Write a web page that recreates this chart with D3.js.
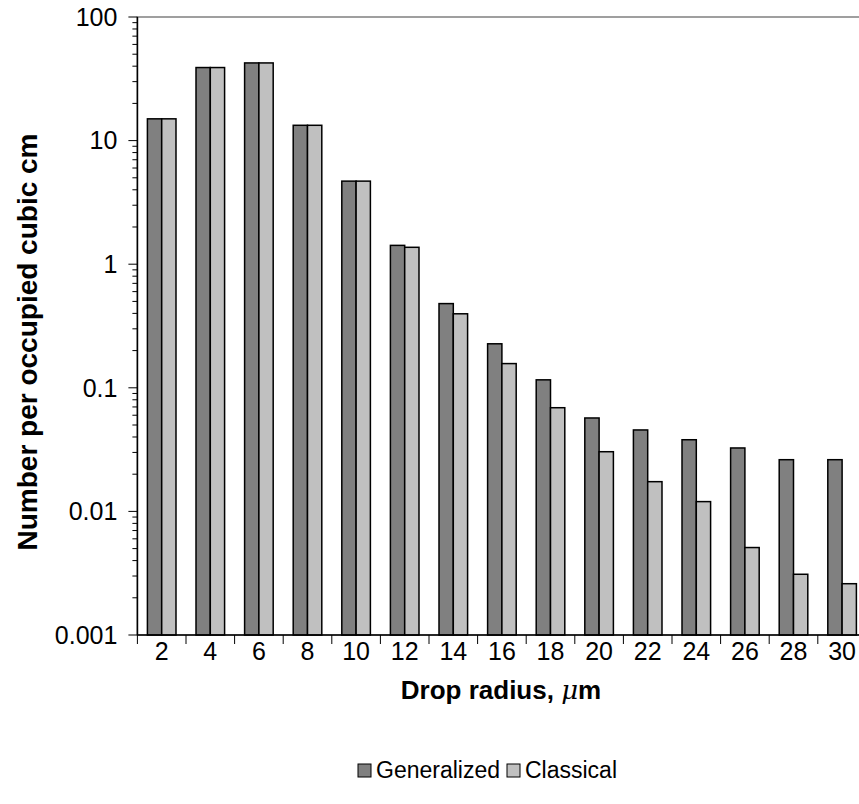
<!DOCTYPE html>
<html>
<head>
<meta charset="utf-8">
<script src="https://cdn.jsdelivr.net/npm/d3@7"></script>
<style>
  body { margin: 0; background: #fff; }
  text { font-family: "Liberation Sans", Arial, sans-serif; }
</style>
</head>
<body>
<div id="my_dataviz"></div>
<script>
// data
var categories = ["2", "4", "6", "8", "10", "12", "14", "16", "18", "20", "22", "24", "26", "28", "30"];
var seriesNames = ["Generalized", "Classical"];
var generalized = [15, 39, 42.5, 13.3, 4.7, 1.42, 0.48, 0.227, 0.116, 0.057, 0.0456, 0.038, 0.0326, 0.0262, 0.0262];
var classical = [15, 39, 42.5, 13.3, 4.7, 1.37, 0.397, 0.157, 0.069, 0.0304, 0.0174, 0.012, 0.0051, 0.0031, 0.0026];
var yTicks = [100, 10, 1, 0.1, 0.01, 0.001];
var yTickLabels = ["100", "10", "1", "0.1", "0.01", "0.001"];
var colors = ["#808080", "#c0c0c0"];

// plot area (right edge runs past the window like the original)
var plot = {left: 137.4, top: 17, right: 866.4, bottom: 635};

var svg = d3.select("#my_dataviz")
    .append("svg")
    .attr("width", 859)
    .attr("height", 804);

var x0 = d3.scaleBand()
    .domain(categories)
    .range([plot.left, plot.right])
    .padding(0);

var x1 = d3.scaleBand()
    .domain(seriesNames)
    .range([0, x0.bandwidth()])
    .paddingInner(0)
    .paddingOuter(0.7);

var y = d3.scaleLog()
    .domain([0.001, 100])
    .range([plot.bottom, plot.top]);

// plot area border (gray)
svg.append("rect")
    .attr("x", plot.left)
    .attr("y", plot.top)
    .attr("width", plot.right - plot.left)
    .attr("height", plot.bottom - plot.top)
    .style("fill", "none")
    .style("stroke", "#808080")
    .style("stroke-width", 1.5);

// bars
var rows = categories.map(function (c, i) {
    return {cat: c, values: [generalized[i], classical[i]]};
});

var groups = svg.selectAll("g.cat")
    .data(rows).enter()
    .append("g")
    .attr("class", "cat")
    .attr("transform", function (d) { return "translate(" + x0(d.cat) + ",0)"; });

groups.selectAll("rect")
    .data(function (d) {
        return d.values.map(function (v, k) { return {name: seriesNames[k], value: v, k: k}; });
    })
    .enter().append("rect")
    .attr("x", function (d) { return x1(d.name); })
    .attr("y", function (d) { return y(d.value); })
    .attr("width", x1.bandwidth())
    .attr("height", function (d) { return plot.bottom - y(d.value); })
    .style("fill", function (d) { return colors[d.k]; })
    .style("stroke", "#000")
    .style("stroke-width", 1.5);

// y axis: major + minor ticks
var minor = [];
yTicks.forEach(function (t) {
    if (t < 100) {
        for (var m = 2; m <= 9; m++) minor.push(t * m);
    }
});

var yAxis = svg.append("g");
yAxis.append("line")
    .attr("x1", plot.left).attr("x2", plot.left)
    .attr("y1", plot.top).attr("y2", plot.bottom)
    .style("stroke", "#000").style("stroke-width", 1.5);
yAxis.selectAll("line.minor")
    .data(minor).enter()
    .append("line")
    .attr("class", "minor")
    .attr("x1", plot.left - 5).attr("x2", plot.left)
    .attr("y1", function (d) { return y(d); })
    .attr("y2", function (d) { return y(d); })
    .style("stroke", "#000");
yAxis.selectAll("line.major")
    .data(yTicks).enter()
    .append("line")
    .attr("class", "major")
    .attr("x1", plot.left - 9).attr("x2", plot.left)
    .attr("y1", function (d) { return y(d); })
    .attr("y2", function (d) { return y(d); })
    .style("stroke", "#000");
yAxis.selectAll("text")
    .data(yTicks).enter()
    .append("text")
    .attr("x", plot.left - 20)
    .attr("y", function (d) { return y(d); })
    .attr("dy", "0.35em")
    .style("text-anchor", "end")
    .style("font-size", "25px")
    .text(function (d, i) { return yTickLabels[i]; });

// x axis
var xAxis = svg.append("g");
xAxis.append("line")
    .attr("x1", plot.left).attr("x2", plot.right)
    .attr("y1", plot.bottom).attr("y2", plot.bottom)
    .style("stroke", "#000").style("stroke-width", 1.5);
xAxis.selectAll("line.tick")
    .data(categories).enter()
    .append("line")
    .attr("class", "tick")
    .attr("x1", function (d) { return x0(d); })
    .attr("x2", function (d) { return x0(d); })
    .attr("y1", plot.bottom)
    .attr("y2", plot.bottom + 9)
    .style("stroke", "#000");
xAxis.selectAll("text")
    .data(categories).enter()
    .append("text")
    .attr("x", function (d) { return x0(d) + x0.bandwidth() / 2; })
    .attr("y", 660)
    .style("text-anchor", "middle")
    .style("font-size", "25px")
    .text(function (d) { return d; });

// axis titles
var xTitle = svg.append("text")
    .attr("x", 501)
    .attr("y", 699)
    .style("text-anchor", "middle")
    .style("font-size", "26px")
    .style("font-weight", "bold");
xTitle.append("tspan").text("Drop radius, ");
xTitle.append("tspan")
    .style("font-style", "italic")
    .style("font-weight", "normal")
    .style("font-family", "'DejaVu Serif', serif")
    .text("\u03bc");
xTitle.append("tspan").text("m");

svg.append("text")
    .attr("transform", "translate(37," + 342 + ") rotate(-90)")
    .style("text-anchor", "middle")
    .style("font-size", "28px")
    .style("font-weight", "bold")
    .text("Number per occupied cubic cm");

// legend
var legend = svg.append("g").attr("transform", "translate(358,764)");
var legendX = [0, 149];
seriesNames.forEach(function (name, k) {
    legend.append("rect")
        .attr("x", legendX[k])
        .attr("y", 0)
        .attr("width", 13)
        .attr("height", 13)
        .style("fill", colors[k])
        .style("stroke", "#000")
        .style("stroke-width", 1);
    legend.append("text")
        .attr("x", legendX[k] + 18)
        .attr("y", 14)
        .style("font-size", "23px")
        .text(name);
});
</script>
</body>
</html>
